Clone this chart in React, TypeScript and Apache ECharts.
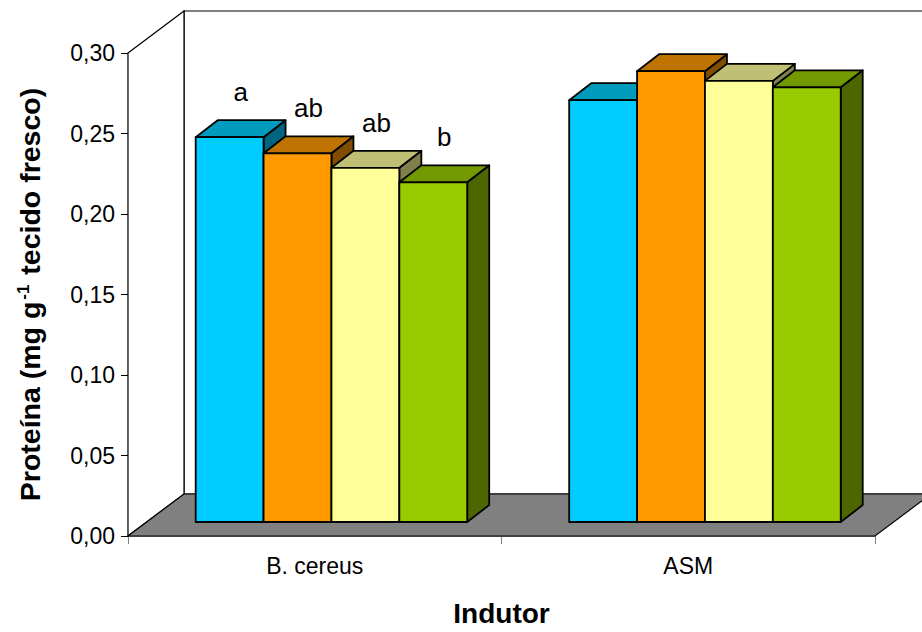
import React, { useEffect, useRef } from "react";
import * as echarts from "echarts";

// Inducers on the category axis
const categories = ["B. cereus", "ASM"];

// Protein content (mg g-1 fresh tissue) for each treatment, per inducer
const treatmentNames = ["Tratamento 1", "Tratamento 2", "Tratamento 3", "Tratamento 4"];
const treatment1 = [0.239, 0.262];
const treatment2 = [0.229, 0.28];
const treatment3 = [0.22, 0.274];
const treatment4 = [0.211, 0.27];

// Statistical letters shown above the bars
const letters1 = ["a", ""];
const letters2 = ["ab", ""];
const letters3 = ["ab", ""];
const letters4 = ["b", ""];

// Value axis ticks
const yMin = 0;
const yMax = 0.3;
const yStep = 0.05;

const FONT = "'Liberation Sans', Arial, Helvetica, sans-serif";

// Face colours of the 3D columns: front, top, side
const frontColors = ["#00CCFF", "#FF9900", "#FFFF99", "#99CC00"];
const topColors = ["#009BBD", "#BF7300", "#BFBF76", "#739900"];
const sideColors = ["#006680", "#7F4C00", "#80804D", "#4D6600"];

// Oblique projection of the chart box (pixels)
const WALL_DX = 56;
const WALL_DY = 42;
const FRONT_DX = 16.7;
const FRONT_DY = 14;
const BAR_DX = 22;
const BAR_DY = 17;
const GROUP_RATIO = 0.727;

export default function App() {
  const ref = useRef<HTMLDivElement>(null);

  useEffect(() => {
    if (!ref.current) return;
    const chart = echarts.init(ref.current, null, { renderer: "svg" });

    const valueSets = [treatment1, treatment2, treatment3, treatment4];
    const letterSets = [letters1, letters2, letters3, letters4];

    // Floor, side wall and back wall of the 3D box
    const frameSeries = {
      type: "custom",
      name: "frame",
      z: 1,
      clip: false,
      silent: true,
      data: [[0, 0]],
      renderItem: (params: any) => {
        const cs = params.coordSys;
        const L = cs.x;
        const T = cs.y;
        const R = cs.x + cs.width;
        const B = cs.y + cs.height;
        const line = { stroke: "#000", lineWidth: 1.2 };
        return {
          type: "group",
          children: [
            {
              type: "rect",
              shape: { x: L + WALL_DX, y: T - WALL_DY, width: R - L, height: B - T },
              style: { fill: "#fff", ...line },
            },
            {
              type: "polygon",
              shape: {
                points: [
                  [L, T],
                  [L + WALL_DX, T - WALL_DY],
                  [L + WALL_DX, B - WALL_DY],
                  [L, B],
                ],
              },
              style: { fill: "#fff", ...line },
            },
            {
              type: "polygon",
              shape: {
                points: [
                  [L, B],
                  [R, B],
                  [R + WALL_DX, B - WALL_DY],
                  [L + WALL_DX, B - WALL_DY],
                ],
              },
              style: { fill: "#808080", ...line },
            },
          ],
        };
      },
    };

    const barSeries = valueSets.map((vals, k) => ({
      type: "custom",
      name: treatmentNames[k],
      z: 2 + k,
      clip: false,
      data: vals.map((v, i) => [i, v]),
      renderItem: (params: any, api: any) => {
        const cat = api.value(0);
        const v = api.value(1);
        const letter = letterSets[k][cat];
        const base = api.coord([cat, 0]);
        const top = api.coord([cat, v]);
        const band = api.size([1, 0])[0];
        const groupW = band * GROUP_RATIO;
        const barW = groupW / 4;
        const x0 = base[0] - groupW / 2 + k * barW + FRONT_DX;
        const x1 = x0 + barW;
        const yb = base[1] - FRONT_DY;
        const yt = top[1] - FRONT_DY;
        const stroke = { stroke: "#000", lineWidth: 1.8, lineJoin: "round" };
        const children: any[] = [
          {
            type: "polygon",
            shape: {
              points: [
                [x1, yt],
                [x1 + BAR_DX, yt - BAR_DY],
                [x1 + BAR_DX, yb - BAR_DY],
                [x1, yb],
              ],
            },
            style: { fill: sideColors[k], ...stroke },
          },
          {
            type: "polygon",
            shape: {
              points: [
                [x0, yt],
                [x1, yt],
                [x1 + BAR_DX, yt - BAR_DY],
                [x0 + BAR_DX, yt - BAR_DY],
              ],
            },
            style: { fill: topColors[k], ...stroke },
          },
          {
            type: "rect",
            shape: { x: x0, y: yt, width: barW, height: yb - yt },
            style: { fill: frontColors[k], ...stroke },
          },
        ];
        if (letter) {
          children.push({
            type: "text",
            style: {
              text: letter,
              x: x0 + barW / 2 + BAR_DX / 2,
              y: yt - 45,
              align: "center",
              verticalAlign: "middle",
              fill: "#000",
              fontSize: 26,
              fontFamily: FONT,
            },
          });
        }
        return { type: "group", children };
      },
    }));

    chart.setOption({
      animation: false,
      backgroundColor: "#fff",
      textStyle: { fontFamily: FONT },
      grid: { left: 128, top: 53, width: 747, height: 488, containLabel: false },
      xAxis: {
        type: "category",
        data: categories,
        boundaryGap: true,
        name: "Indutor",
        nameLocation: "middle",
        nameGap: 63,
        nameTextStyle: { fontSize: 28, fontWeight: "bold", color: "#000", fontFamily: FONT },
        axisLine: { show: true, lineStyle: { color: "#808080", width: 1 } },
        axisTick: { show: true, alignWithLabel: false, length: 8, lineStyle: { color: "#808080" } },
        axisLabel: { fontSize: 23, color: "#000", margin: 18, fontFamily: FONT },
        splitLine: { show: false },
      },
      yAxis: {
        type: "value",
        min: yMin,
        max: yMax,
        interval: yStep,
        name: "{b|Proteína (mg g}{s|-1}{b| tecido fresco)}",
        nameLocation: "middle",
        nameRotate: 90,
        nameGap: 84,
        nameTextStyle: {
          color: "#000",
          fontFamily: FONT,
          rich: {
            b: { fontSize: 28.5, fontWeight: "bold", color: "#000", fontFamily: FONT },
            s: {
              fontSize: 17,
              fontWeight: "bold",
              color: "#000",
              fontFamily: FONT,
              verticalAlign: "top",
              padding: [0, 2, 12, 2],
            },
          },
        },
        axisLine: { show: true, lineStyle: { color: "#000", width: 1.2 } },
        axisTick: { show: true, length: 7, lineStyle: { color: "#000" } },
        axisLabel: {
          fontSize: 23,
          color: "#000",
          margin: 13,
          fontFamily: FONT,
          formatter: (v: number) => v.toFixed(2).replace(".", ","),
        },
        splitLine: { show: false },
      },
      series: [frameSeries, ...barSeries],
    });

    return () => chart.dispose();
  }, []);

  return (
    <div
      ref={ref}
      style={{ position: "fixed", left: 0, top: 0, width: 922, height: 632, overflow: "hidden" }}
    />
  );
}
